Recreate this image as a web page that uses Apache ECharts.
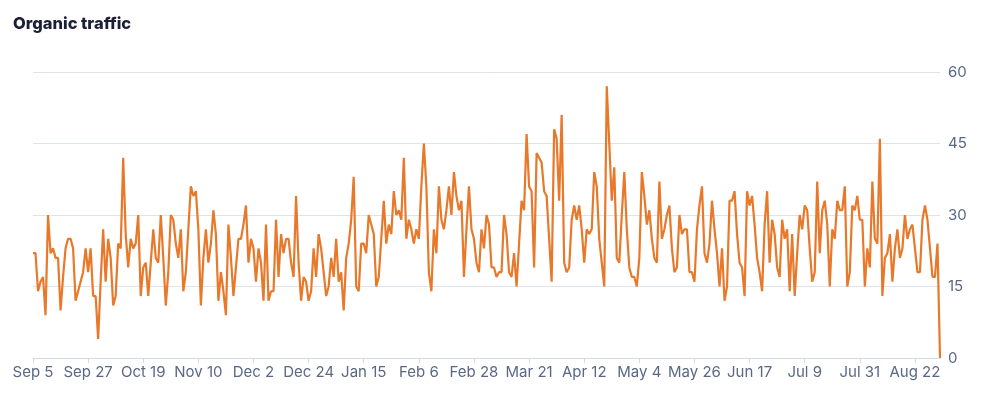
<!DOCTYPE html>
<html><head><meta charset="utf-8">
<script src="https://cdn.jsdelivr.net/npm/echarts@6/dist/echarts.min.js"></script>
<style>html,body{margin:0;padding:0;background:#fff}#c{width:994px;height:398px}</style>
</head><body><div id="c"></div>
<script>
const startDate = [2023, 8, 5]; // Sep 5, 2023
const traffic = [
22,22,14,16,17,9,30,22,23,21,21,10,17,23,25,25,23,12,14,16,18,23,18,23,13,13,4,16,27,16,25,21,
11,13,24,23,42,26,19,25,23,24,30,13,19,20,13,20,27,21,20,30,21,11,18,30,29,24,21,27,14,18,27,36,34,35,
27,11,21,27,20,24,31,26,12,18,14,9,28,21,13,19,25,25,28,32,20,25,23,16,23,20,12,28,12,14,14,29,17,26,
22,25,25,20,17,34,20,12,17,16,12,14,23,17,26,23,18,13,15,21,17,25,16,18,10,21,24,29,38,15,14,24,24,22,
30,28,26,15,17,25,33,24,28,26,35,30,31,29,42,25,29,27,24,27,25,36,45,36,18,14,27,22,36,29,27,31,36,30,
39,34,31,33,17,27,36,27,25,20,18,27,23,30,28,19,19,17,18,18,30,26,18,17,22,15,24,33,31,47,36,35,19,43,
42,41,35,34,25,16,48,46,33,51,20,18,19,29,32,29,32,27,20,27,26,27,39,36,25,20,15,57,45,33,40,21,20,30,
39,27,19,17,17,15,21,39,34,28,31,25,21,20,37,25,27,30,32,23,18,19,30,26,27,27,18,18,16,27,32,36,22,20,
24,33,27,22,15,23,12,15,33,33,35,26,20,19,13,35,32,34,28,21,18,14,28,35,20,29,26,19,17,29,25,27,14,26,
13,22,30,27,32,31,23,16,18,37,22,31,33,28,15,27,25,33,31,31,36,15,18,32,31,34,29,29,15,23,19,37,25,24,
46,13,21,22,26,16,23,27,21,23,30,25,27,28,23,18,18,29,32,29,23,17,17,24,0
];
const yTicks = [0, 15, 30, 45, 60];
const months = ['Jan','Feb','Mar','Apr','May','Jun','Jul','Aug','Sep','Oct','Nov','Dec'];

const dates = traffic.map((_, i) => {
  const d = new Date(startDate[0], startDate[1], startDate[2] + i);
  return months[d.getMonth()] + ' ' + d.getDate();
});

const chart = echarts.init(document.getElementById('c'), null, {renderer: 'canvas'});
chart.setOption({
  animation: false,
  title: {
    text: 'Organic traffic', left: 8, top: 11,
    textStyle: {fontFamily: 'Inter', fontWeight: 800, fontSize: 16.5, color: '#1b2036'}
  },
  grid: {left: 33, right: 54, top: 72, bottom: 40},
  xAxis: {
    type: 'category', data: dates, boundaryGap: false,
    axisLine: {lineStyle: {color: '#d5dae3'}},
    axisTick: {show: true, interval: 21, length: 5, lineStyle: {color: '#d5dae3'}},
    axisLabel: {interval: 21, color: '#5a6886', fontFamily: 'Inter', fontSize: 15, margin: 7},
    splitLine: {show: false}
  },
  yAxis: {
    type: 'value', position: 'right', min: yTicks[0], max: yTicks[yTicks.length - 1], interval: 15,
    axisLine: {show: false}, axisTick: {show: false},
    axisLabel: {color: '#5a6886', fontFamily: 'Inter', fontSize: 15, margin: 8},
    splitLine: {lineStyle: {color: '#dfe3ec', width: 1}}
  },
  series: [{
    type: 'line', data: traffic, showSymbol: false, symbol: 'none',
    lineStyle: {color: '#e8782a', width: 2.2}, itemStyle: {color: '#e8782a'}
  }]
});
</script></body></html>
